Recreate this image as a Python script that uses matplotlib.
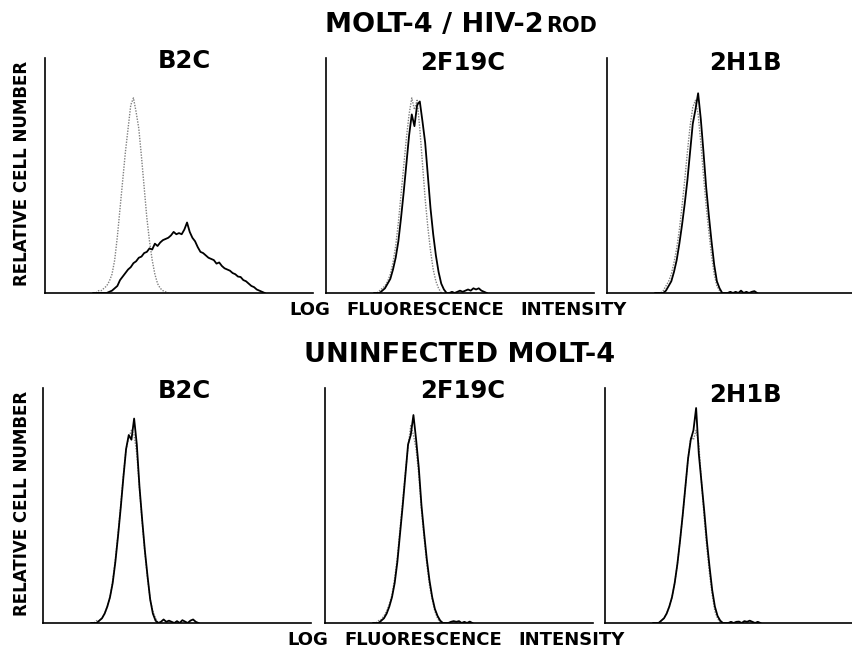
import numpy as np
import matplotlib
matplotlib.use("Agg")
import matplotlib.pyplot as plt

# histogram heights (fraction of axis height), one value per channel from START
START = 18
antibodies = ["B2C", "2F19C", "2H1B"]

top_b2c_solid = [0, 0, 0, 0, 0, 0, 0.005, 0.01, 0.02, 0.03, 0.055, 0.07, 0.085, 0.10, 0.11,
                 0.127, 0.135, 0.15, 0.155, 0.17, 0.175, 0.19, 0.185, 0.21, 0.20, 0.215, 0.225,
                 0.23, 0.235, 0.245, 0.26, 0.25, 0.255, 0.25, 0.27, 0.30, 0.26, 0.235, 0.22,
                 0.195, 0.175, 0.17, 0.16, 0.15, 0.145, 0.14, 0.125, 0.13, 0.115, 0.105, 0.10,
                 0.095, 0.085, 0.08, 0.07, 0.068, 0.055, 0.05, 0.04, 0.03, 0.025, 0.015, 0.01,
                 0.005, 0]
top_b2c_dotted = [0, 0, 0.01, 0.01, 0.02, 0.03, 0.05, 0.08, 0.14, 0.24, 0.36, 0.48, 0.60, 0.70,
                  0.80, 0.83, 0.77, 0.70, 0.58, 0.45, 0.32, 0.22, 0.14, 0.08, 0.04, 0.02, 0.01,
                  0.005, 0]

top_2f19c_solid = [0, 0, 0, 0.01, 0.02, 0.04, 0.06, 0.10, 0.15, 0.22, 0.32, 0.43, 0.55, 0.67,
                   0.76, 0.71, 0.80, 0.815, 0.73, 0.64, 0.50, 0.36, 0.25, 0.16, 0.09, 0.04,
                   0.015, 0, 0, 0.005, 0, 0.005, 0.01, 0.005, 0.01, 0.015, 0.01, 0.02, 0.015,
                   0.02, 0.01, 0.005, 0]
top_2f19c_dotted = [0, 0, 0.01, 0.02, 0.03, 0.05, 0.08, 0.13, 0.20, 0.30, 0.42, 0.54, 0.66,
                    0.76, 0.83, 0.78, 0.82, 0.70, 0.55, 0.40, 0.28, 0.18, 0.10, 0.05, 0.02, 0]

top_2h1b_solid = [0, 0, 0, 0, 0.01, 0.03, 0.05, 0.09, 0.14, 0.21, 0.29, 0.38, 0.48, 0.60, 0.72,
                  0.78, 0.85, 0.74, 0.60, 0.45, 0.33, 0.22, 0.12, 0.05, 0.02, 0, 0, 0, 0.005, 0,
                  0.005, 0, 0.01, 0, 0.005, 0, 0.005, 0.008, 0]
top_2h1b_dotted = [0, 0, 0, 0.01, 0.03, 0.05, 0.08, 0.13, 0.19, 0.27, 0.37, 0.48, 0.60, 0.71,
                   0.79, 0.82, 0.76, 0.64, 0.50, 0.37, 0.26, 0.16, 0.08, 0.03, 0.01, 0]

bot_b2c_solid = [0, 0, 0, 0.01, 0.02, 0.04, 0.07, 0.11, 0.17, 0.26, 0.37, 0.49, 0.62, 0.74,
                 0.80, 0.78, 0.87, 0.76, 0.58, 0.44, 0.31, 0.20, 0.10, 0.04, 0.01, 0, 0.005,
                 0.015, 0.005, 0.01, 0.005, 0, 0.008, 0, 0.012, 0.006, 0, 0.01, 0.015, 0.005, 0]
bot_b2c_dotted = [0, 0, 0.01, 0.01, 0.02, 0.04, 0.07, 0.11, 0.18, 0.27, 0.38, 0.50, 0.63, 0.74,
                  0.79, 0.82, 0.80, 0.72, 0.57, 0.43, 0.30, 0.19, 0.10, 0.05, 0.02, 0]

bot_2f19c_solid = [0, 0, 0, 0.01, 0.02, 0.04, 0.07, 0.11, 0.17, 0.26, 0.38, 0.50, 0.63, 0.76,
                   0.80, 0.885, 0.78, 0.66, 0.50, 0.38, 0.27, 0.18, 0.11, 0.06, 0.03, 0.01, 0,
                   0, 0, 0.005, 0.008, 0.005, 0.008, 0, 0.005, 0, 0.006, 0]
bot_2f19c_dotted = [0, 0, 0.01, 0.015, 0.03, 0.05, 0.08, 0.12, 0.19, 0.28, 0.40, 0.52, 0.64,
                    0.75, 0.84, 0.80, 0.74, 0.63, 0.48, 0.36, 0.25, 0.16, 0.10, 0.05, 0.02, 0]

bot_2h1b_solid = [0, 0, 0, 0.01, 0.02, 0.04, 0.07, 0.11, 0.17, 0.25, 0.35, 0.46, 0.58, 0.70,
                  0.78, 0.82, 0.915, 0.72, 0.60, 0.48, 0.35, 0.24, 0.14, 0.07, 0.03, 0.01, 0,
                  0, 0, 0.005, 0, 0.005, 0.006, 0, 0.008, 0.005, 0.01, 0.005, 0, 0.005, 0]
bot_2h1b_dotted = [0, 0, 0, 0.01, 0.02, 0.04, 0.07, 0.11, 0.17, 0.25, 0.35, 0.46, 0.58, 0.70,
                   0.79, 0.78, 0.82, 0.76, 0.60, 0.45, 0.32, 0.21, 0.12, 0.05, 0.02, 0]

rows = [
    [(top_b2c_solid, top_b2c_dotted), (top_2f19c_solid, top_2f19c_dotted),
     (top_2h1b_solid, top_2h1b_dotted)],
    [(bot_b2c_solid, bot_b2c_dotted), (bot_2f19c_solid, bot_2f19c_dotted),
     (bot_2h1b_solid, bot_2h1b_dotted)],
]

W, H = 853, 651
fig = plt.figure(figsize=(W / 100, H / 100), dpi=100)
FONT = "DejaVu Sans"

def fx(x):
    return x / W

def fy(y):
    return 1 - y / H

# layout in pixels
row_lefts = [[45, 326, 607], [43, 325, 605]]
row_top = [58, 388]
row_bottom = [293, 623]
panel_w = 268
title_y = [[68, 70, 70], [398, 398, 402]]
title_x = [184, 463, 745]
xlabel_y = [310, 640]
xlabel_words = [("LOG", 310), ("FLUORESCENCE", 425), ("INTENSITY", 574)]

for r in range(2):
    for c in range(3):
        left = row_lefts[r][c]
        right = min(left + panel_w, W - 1)
        ax = fig.add_axes([fx(left), fy(row_bottom[r]), (right - left) / W,
                           (row_bottom[r] - row_top[r]) / H])
        solid, dotted = rows[r][c]
        xs = START + np.arange(len(solid))
        xd = START + np.arange(len(dotted))
        ax.plot(xd, dotted, color="#808080", lw=1.0, ls=(0, (1, 1)))
        ax.plot(xs, solid, color="black", lw=1.3)
        ax.set_xlim(0, 100 * (right - left) / panel_w)
        ax.set_ylim(0, 1)
        ax.set_xticks([])
        ax.set_yticks([])
        for s in ["top", "right"]:
            ax.spines[s].set_visible(False)
        for s in ["left", "bottom"]:
            ax.spines[s].set_linewidth(1.2)
            ax.spines[s].set_color("black")
        ax.patch.set_alpha(0)
        fig.text(fx(title_x[c]), fy(title_y[r][c]), antibodies[c], family=FONT,
                 weight="bold", fontsize=17.5, ha="center", va="baseline")

    fig.text(fx(22), fy((row_top[r] + row_bottom[r]) / 2 - 2), "RELATIVE CELL NUMBER",
             family=FONT, weight="bold", fontsize=12, rotation=90, ha="center", va="center")

    # x label, words spread as in the original
    shift = -2 * r
    for word, wx in xlabel_words:
        fig.text(fx(wx + shift), fy(xlabel_y[r]), word, family=FONT, weight="bold",
                 fontsize=13, ha="center", va="center")

# row headings
renderer = fig.canvas.get_renderer()
main = fig.text(0, fy(32), "MOLT-4 / HIV-2", family=FONT, weight="bold", fontsize=19.5,
                ha="right", va="baseline")
sub = fig.text(0, fy(32), "ROD", family=FONT, weight="bold", fontsize=15,
               ha="left", va="baseline")
w_main = main.get_window_extent(renderer).width
w_sub = sub.get_window_extent(renderer).width
x0 = 460 - (w_main + w_sub) / 2 + w_main
main.set_x(fx(x0))
sub.set_x(fx(x0 + 2))

fig.text(fx(460), fy(362), "UNINFECTED MOLT-4", family=FONT, weight="bold", fontsize=19.5,
         ha="center", va="baseline")

fig.savefig("out.png", dpi=100)
